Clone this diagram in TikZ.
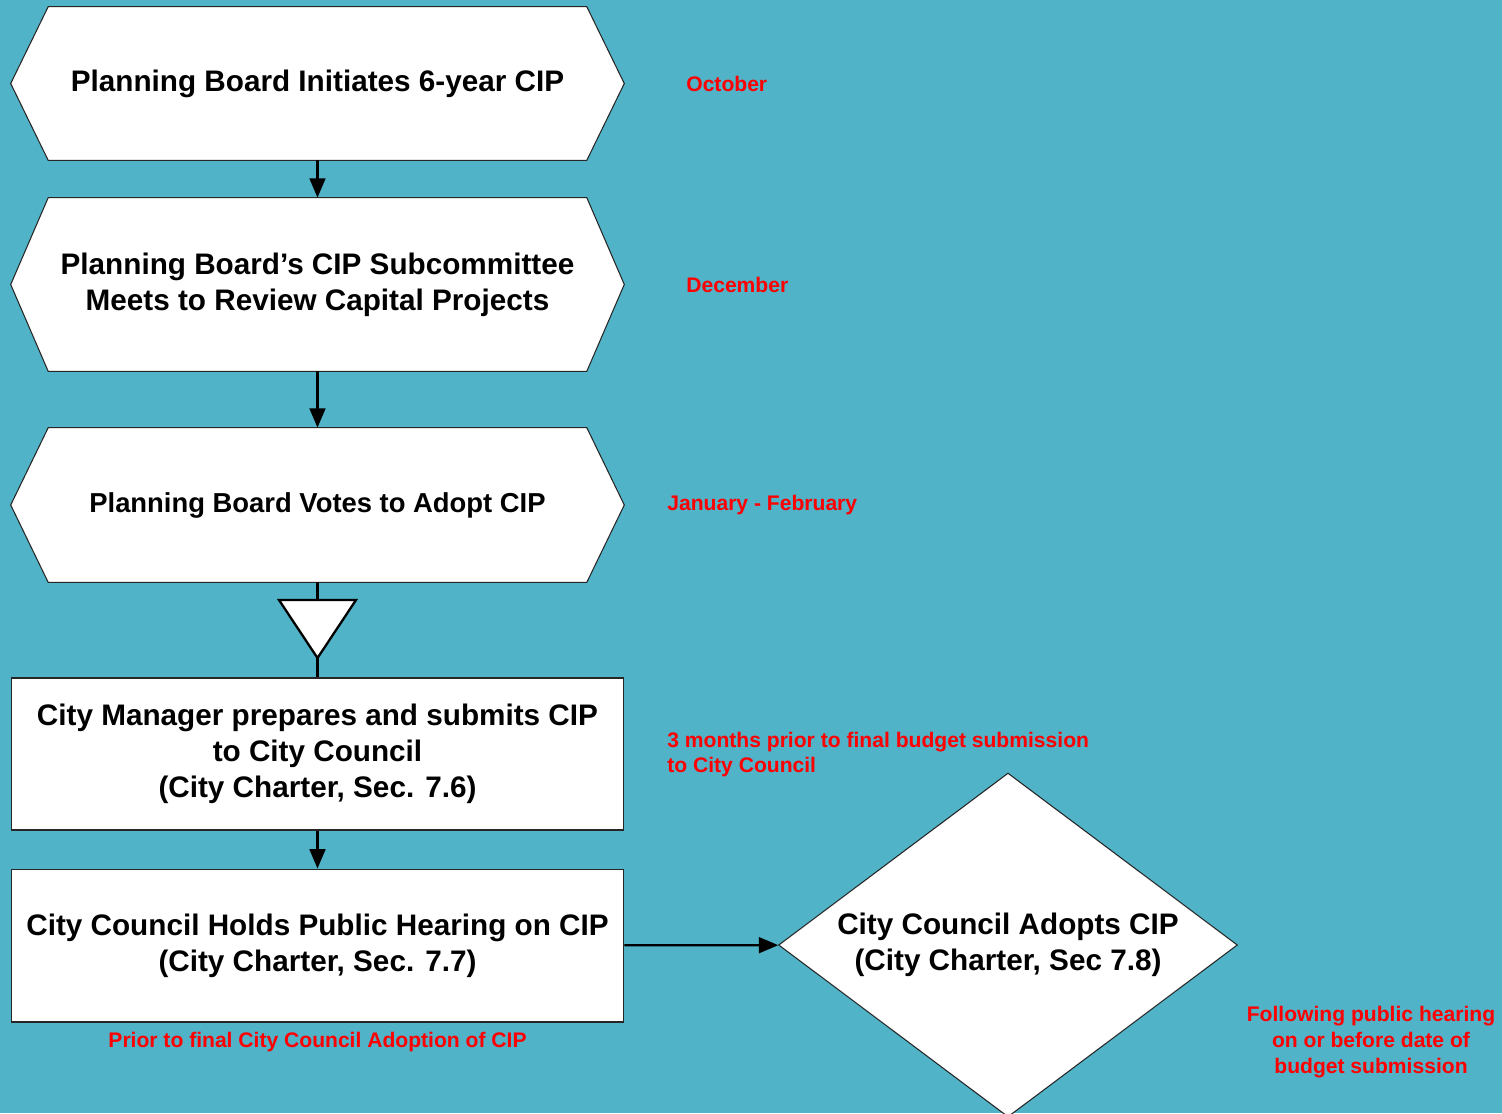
\documentclass[tikz,border=0pt]{standalone}
\usepackage{fontspec}
\setmainfont{Liberation Sans}
\usetikzlibrary{arrows.meta}
\usetikzlibrary{shapes.geometric}
\usetikzlibrary{positioning}

\definecolor{sea}{RGB}{80,179,200}
\definecolor{notered}{RGB}{255,0,0}

\pgfdeclarelayer{bg}
\pgfdeclarelayer{back}
\pgfsetlayers{bg,back,main}

\tikzset{
  bigtext/.style={font=\fontsize{16.9}{20.4}\selectfont\bfseries},
  hexbox/.style={bigtext, minimum width=12.26cm, inner sep=0pt, align=center},
  stepbox/.style={bigtext, draw=black!85, fill=white, line width=0.6pt,
    minimum width=12.26cm, inner sep=0pt, align=center},
  note/.style={text=notered, font=\fontsize{12}{14.2}\selectfont\bfseries, inner sep=0pt},
  flow/.style={-{Triangle[length=11pt,width=9pt]}, line width=1.3pt},
  link/.style={line width=1.3pt},
}

\begin{document}
\begin{tikzpicture}[x=0.02cm,y=-0.02cm]
\useasboundingbox (0,0) rectangle (1502,1113);
\begin{pgfonlayer}{bg}
\fill[sea] (0,0) rectangle (1502,1113);
\end{pgfonlayer}

% steps of the CIP
\node[hexbox, minimum height=3.06cm] (init) at (317.5,83.5) {Planning Board Initiates 6-year CIP};
\node[hexbox, minimum height=3.46cm] (review) at (317.5,284.5) {Planning Board’s CIP Subcommittee\\Meets to Review Capital Projects};
\node[hexbox, minimum height=3.08cm, font=\fontsize{15.6}{20.4}\selectfont\bfseries] (vote) at (317.5,505) {Planning Board Votes to Adopt CIP};
\node[stepbox, minimum height=3.04cm] (submit) at (317.5,754) {City Manager prepares and submits CIP\\to City Council\\(City Charter, Sec. 7.6)};
\node[stepbox, minimum height=3.06cm] (hearing) at (317.5,945.5) {City Council Holds Public Hearing on CIP\\(City Charter, Sec. 7.7)};
\node[bigtext, diamond, aspect=1.33, draw=black!85, fill=white, line width=0.6pt,
  minimum width=9.18cm, minimum height=6.88cm, inner sep=0pt, align=center] (adopt) at (1008,945) {City Council Adopts CIP\\(City Charter, Sec 7.8)};

\begin{pgfonlayer}{back}
\foreach \n in {init,review,vote}
  \draw[draw=black!85, fill=white, line width=0.6pt]
    ([xshift=0.75cm]\n.north west) -- ([xshift=-0.75cm]\n.north east) -- (\n.east)
    -- ([xshift=-0.75cm]\n.south east) -- ([xshift=0.75cm]\n.south west) -- (\n.west) -- cycle;
\end{pgfonlayer}

% merge triangle
\coordinate (tribase) at (317.5,600);
\coordinate (triapex) at (317.5,658);

\draw[flow] (init) -- (review);
\draw[flow] (review) -- (vote);
\draw[link] (vote) -- (tribase);
\draw[link] (triapex) -- (submit);
\draw[flow] (submit) -- (hearing);
\draw[flow] (hearing) -- (adopt);
\draw[fill=white, line width=1.3pt, line join=miter]
  ([xshift=-0.77cm]tribase) -- ([xshift=0.77cm]tribase) -- (triapex) -- cycle;

% dates
\node[note, anchor=west] (oct) at (686,84) {October};
\node[note, anchor=west] (dec) at (686,285) {December};
\node[note, anchor=west] (janfeb) at (667,505) {January - February};
\node[note, anchor=west, align=left] (months) at (667,754.5) {3 months prior to final budget submission\\to City Council};
\node[note] (prior) at (317.5,1042) {Prior to final City Council Adoption of CIP};
\node[note, align=center, font=\fontsize{12}{14.7}\selectfont\bfseries] (following) at (1371,1042) {Following public hearing\\on or before date of\\budget submission};
\end{tikzpicture}
\end{document}
